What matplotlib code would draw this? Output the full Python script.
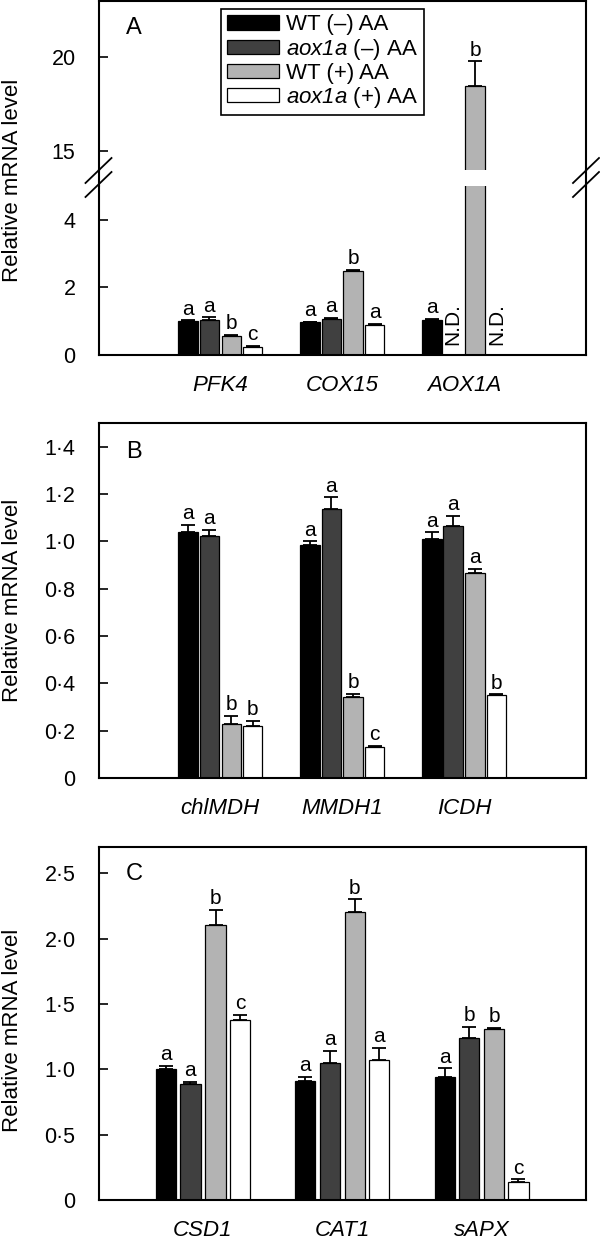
import matplotlib
matplotlib.use("Agg")
import matplotlib.pyplot as plt
from matplotlib.lines import Line2D
import numpy as np

plt.rcParams['font.family'] = ['Liberation Sans', 'DejaVu Sans']
plt.rcParams['mathtext.fontset'] = 'custom'
plt.rcParams['mathtext.rm'] = 'Liberation Sans:italic'
plt.rcParams['mathtext.it'] = 'Liberation Sans:italic'

# series (legend order)
series = ['WT (–) AA', r'$\mathit{aox1a}$ (–) AA', 'WT (+) AA', r'$\mathit{aox1a}$ (+) AA']
colors = ['#000000', '#404040', '#b3b3b3', '#ffffff']

# panel A  (rows = series, cols = genes), None = not detected
genes_a = ['PFK4', 'COX15', 'AOX1A']
mean_a = [[1.00, 0.96, 1.03],
          [1.04, 1.06, None],
          [0.56, 2.48, 18.5],
          [0.24, 0.89, None]]
err_a = [[0.02, 0.02, 0.03],
         [0.07, 0.03, 0.0],
         [0.03, 0.03, 1.3],
         [0.02, 0.02, 0.0]]
let_a = [['a', 'a', 'a'],
         ['a', 'a', ''],
         ['b', 'b', 'b'],
         ['c', 'a', '']]

# panel B
genes_b = ['chlMDH', 'MMDH1', 'ICDH']
mean_b = [[1.04, 0.984, 1.011],
          [1.023, 1.136, 1.065],
          [0.229, 0.342, 0.867],
          [0.219, 0.131, 0.349]]
err_b = [[0.03, 0.017, 0.028],
         [0.025, 0.05, 0.042],
         [0.033, 0.014, 0.017],
         [0.022, 0.006, 0.005]]
let_b = [['a', 'a', 'a'],
         ['a', 'a', 'a'],
         ['b', 'b', 'a'],
         ['b', 'c', 'b']]

# panel C
genes_c = ['CSD1', 'CAT1', 'sAPX']
mean_c = [[1.005, 0.911, 0.939],
          [0.885, 1.048, 1.237],
          [2.102, 2.204, 1.309],
          [1.375, 1.074, 0.14]]
err_c = [[0.023, 0.033, 0.069],
         [0.02, 0.092, 0.087],
         [0.117, 0.097, 0.007],
         [0.04, 0.089, 0.018]]
let_c = [['a', 'a', 'a'],
         ['a', 'a', 'b'],
         ['b', 'b', 'b'],
         ['c', 'a', 'c']]

ticks_a_low = [0, 2, 4]
ticks_a_up = [15, 20]
ticks_b = [0, 0.2, 0.4, 0.6, 0.8, 1.0, 1.2, 1.4]
ticks_c = [0, 0.5, 1.0, 1.5, 2.0, 2.5]

offsets = [-0.265, -0.09, 0.09, 0.265]
W, H = 600, 1244


def frame(top, bottom):
    return [98.5 / W, (H - bottom) / H, 487.5 / W, (bottom - top) / H]


def dotfmt(v):
    if v == 0:
        return '0'
    return ('%.1f' % v).replace('.', '\u00b7')


def draw_bars(ax, genes, mean, err, lets, width, nd=True):
    x = np.arange(1, len(genes) + 1)
    handles = []
    for i in range(4):
        m = np.array([np.nan if v is None else v for v in mean[i]], dtype=float)
        e = np.array(err[i], dtype=float)
        ok = ~np.isnan(m)
        xs = x[ok] + offsets[i]
        h = ax.bar(xs, m[ok], width, color=colors[i], edgecolor='black',
                   linewidth=0.9, zorder=2)
        handles.append(h)
        ax.errorbar(xs, m[ok], yerr=[np.zeros(ok.sum()), e[ok]], fmt='none',
                    ecolor='black', elinewidth=1.3, capsize=4.8, capthick=1.3,
                    zorder=3)
        for xx, mm, ee, t in zip(xs, m[ok], e[ok], np.array(lets[i])[ok]):
            if t:
                ax.annotate(t, xy=(xx, mm + ee), xytext=(0, 4),
                            textcoords='offset points', ha='center',
                            va='baseline', fontsize=15)
        if nd:
            for xx in x[~ok] + offsets[i]:
                ax.annotate('N.D.', xy=(xx, 0.29), ha='center', va='bottom',
                            rotation=90, fontsize=15)
    return handles


def style(ax):
    for s in ax.spines.values():
        s.set_linewidth(1.5)
    ax.tick_params(axis='y', direction='in', length=6.5, width=1.2,
                   pad=16.5, labelsize=15.5)
    ax.tick_params(axis='x', length=0, pad=14.5, labelsize=16)


fig = plt.figure(figsize=(6, 12.44), dpi=100)

# ---- panel A (broken axis) ----
ax_up = fig.add_axes(frame(1, 170))
ax_lo = fig.add_axes(frame(185.7, 354.7))
draw_bars(ax_up, genes_a, mean_a, err_a, let_a, 0.16, nd=False)
hand = draw_bars(ax_lo, genes_a, mean_a, err_a, let_a, 0.16)
for ax in (ax_up, ax_lo):
    style(ax)
    ax.set_xlim(0, 4)
ax_up.set_ylim(14, 23)
ax_lo.set_ylim(0, 5)
ax_up.set_yticks(ticks_a_up)
ax_lo.set_yticks(ticks_a_low)
ax_up.set_xticks([])
ax_lo.set_xticks([1, 2, 3])
ax_lo.set_xticklabels(genes_a, fontstyle='italic')
ax_up.spines['bottom'].set_visible(False)
ax_lo.spines['top'].set_visible(False)
ax_up.text(0.0564, 0.905, 'A', transform=ax_up.transAxes, fontsize=17,
           ha='left', va='top')
leg = ax_up.legend(hand, series, loc='upper left', bbox_to_anchor=(0.2513, 0.953),
                   borderaxespad=0, fontsize=16, frameon=True, fancybox=False,
                   edgecolor='black', framealpha=1, handlelength=2.37,
                   handleheight=0.63, handletextpad=0.3, labelspacing=0.05,
                   borderpad=0.25)
leg.get_frame().set_linewidth(1.2)


def px_line(xs, ys, lw):
    fig.add_artist(Line2D([v / W for v in xs], [(H - v) / H for v in ys],
                          transform=fig.transFigure, color='black', lw=lw))


for sx in (98.5, 586):
    px_line([sx, sx], [170, 186], 1.5)
    px_line([sx - 13, sx + 13], [183, 158], 1.3)
    px_line([sx - 13, sx + 13], [197, 172], 1.3)

# ---- panel B ----
ax_b = fig.add_axes(frame(423, 778))
draw_bars(ax_b, genes_b, mean_b, err_b, let_b, 0.16)
style(ax_b)
ax_b.set_xlim(0, 4)
ax_b.set_ylim(0, 1.5)
ax_b.set_yticks(ticks_b)
ax_b.set_yticklabels([dotfmt(v) for v in ticks_b])
ax_b.set_xticks([1, 2, 3])
ax_b.set_xticklabels(genes_b, fontstyle='italic')
ax_b.text(0.0564, 0.949, 'B', transform=ax_b.transAxes, fontsize=17,
          ha='left', va='top')

# ---- panel C ----
ax_c = fig.add_axes(frame(847, 1200))
draw_bars(ax_c, genes_c, mean_c, err_c, let_c, 0.145)
style(ax_c)
ax_c.set_xlim(0.25, 3.75)
ax_c.set_ylim(0, 2.7)
ax_c.set_yticks(ticks_c)
ax_c.set_yticklabels([dotfmt(v) for v in ticks_c])
ax_c.set_xticks([1, 2, 3])
ax_c.set_xticklabels(genes_c, fontstyle='italic')
ax_c.text(0.0564, 0.955, 'C', transform=ax_c.transAxes, fontsize=17,
          ha='left', va='top')

for yc in (180, 600, 1030):
    fig.text(12.5 / W, (H - yc) / H, 'Relative mRNA level', rotation=90,
             ha='center', va='center', fontsize=16)

fig.savefig('out.png', dpi=100)
